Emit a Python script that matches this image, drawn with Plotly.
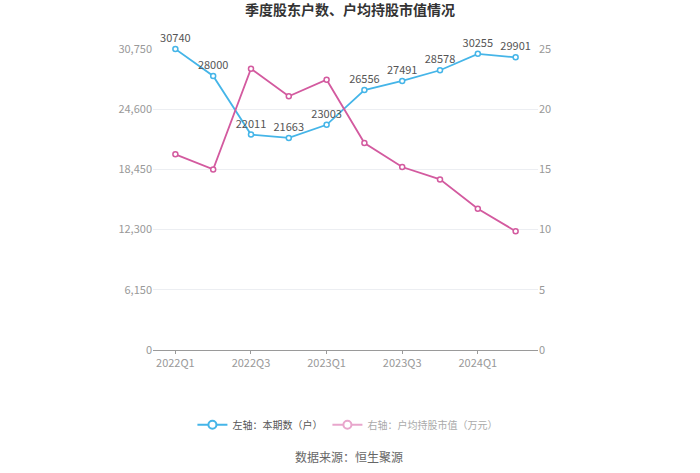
import plotly.graph_objects as go

quarters = ["2022Q1", "2022Q2", "2022Q3", "2022Q4", "2023Q1", "2023Q2",
            "2023Q3", "2023Q4", "2024Q1", "2024Q2"]
holders = [30740, 28000, 22011, 21663, 23003, 26556, 27491, 28578, 30255, 29901]
avg_value = [16.25, 15.0, 23.36, 21.07, 22.45, 17.19, 15.2, 14.17, 11.74, 9.86]
left_ticks = [0, 6150, 12300, 18450, 24600, 30750]
right_ticks = [0, 5, 10, 15, 20, 25]
shown_quarters = ["2022Q1", "2022Q3", "2023Q1", "2023Q3", "2024Q1"]

BLUE = "#45b5e8"
PINK = "#d35a9f"
FONT = "Noto Sans CJK SC"

fig = go.Figure()
fig.add_trace(go.Scatter(
    x=quarters, y=holders, mode="lines+markers+text",
    line=dict(color=BLUE, width=1.8),
    marker=dict(symbol="circle", size=5, color="white", line=dict(color=BLUE, width=1.5)),
    text=[str(v) for v in holders], textposition="top center",
    textfont=dict(color="#555555", size=11, family=FONT),
    showlegend=False, yaxis="y", cliponaxis=False))
fig.add_trace(go.Scatter(
    x=quarters, y=avg_value, mode="lines+markers",
    line=dict(color=PINK, width=1.8),
    marker=dict(symbol="circle", size=5, color="white", line=dict(color=PINK, width=1.5)),
    showlegend=False, yaxis="y2", cliponaxis=False))

# legend entries
fig.add_trace(go.Scatter(
    x=[None], y=[None], mode="lines+markers", name="左轴：本期数（户）",
    line=dict(color=BLUE, width=2),
    marker=dict(symbol="circle", size=8, color="white", line=dict(color=BLUE, width=2))))
fig.add_trace(go.Scatter(
    x=[None], y=[None], mode="lines+markers",
    name="<span style='color:#aaaaaa'>右轴：户均持股市值（万元）</span>",
    line=dict(color="#e8a6cc", width=2),
    marker=dict(symbol="circle", size=8, color="white", line=dict(color="#e8a6cc", width=2)),
    yaxis="y2"))

fig.update_layout(
    width=700, height=473,
    margin=dict(l=153, r=162, t=49, b=123),
    paper_bgcolor="white", plot_bgcolor="white",
    font=dict(family=FONT, color="#999999", size=11),
    title=dict(text="<b>季度股东户数、户均持股市值情况</b>", x=0.5, xanchor="center",
               y=0.988, yanchor="top", font=dict(size=14, color="#333333", family=FONT)),
    xaxis=dict(type="category", categoryorder="array", categoryarray=quarters,
               tickmode="array", tickvals=shown_quarters, ticktext=shown_quarters,
               showgrid=False, showline=True, linecolor="#9a9a9a", linewidth=1,
               ticks="outside", ticklen=3, tickcolor="#9a9a9a",
               tickfont=dict(color="#999999", size=11), zeroline=False),
    yaxis=dict(range=[0, 30750], tickmode="array", tickvals=left_ticks,
               ticktext=[f"{v:,}" for v in left_ticks],
               showgrid=True, gridcolor="#eceef2", gridwidth=1, zeroline=False,
               showline=False, ticks="", tickfont=dict(color="#999999", size=11)),
    yaxis2=dict(range=[0, 25], tickmode="array", tickvals=right_ticks,
                overlaying="y", side="right", showgrid=False, zeroline=False,
                showline=False, ticks="", tickfont=dict(color="#999999", size=11)),
    legend=dict(orientation="h", x=0.505, xanchor="center", y=-0.2, yanchor="top",
                font=dict(size=10, color="#555555", family=FONT),
                itemwidth=30, bgcolor="rgba(0,0,0,0)"),
    annotations=[dict(text="数据来源：恒生聚源", xref="paper", yref="paper",
                      x=0.51, y=-0.355, xanchor="center", yanchor="middle",
                      showarrow=False, font=dict(size=12, color="#666666", family=FONT))],
)

fig.write_html("out.html")
